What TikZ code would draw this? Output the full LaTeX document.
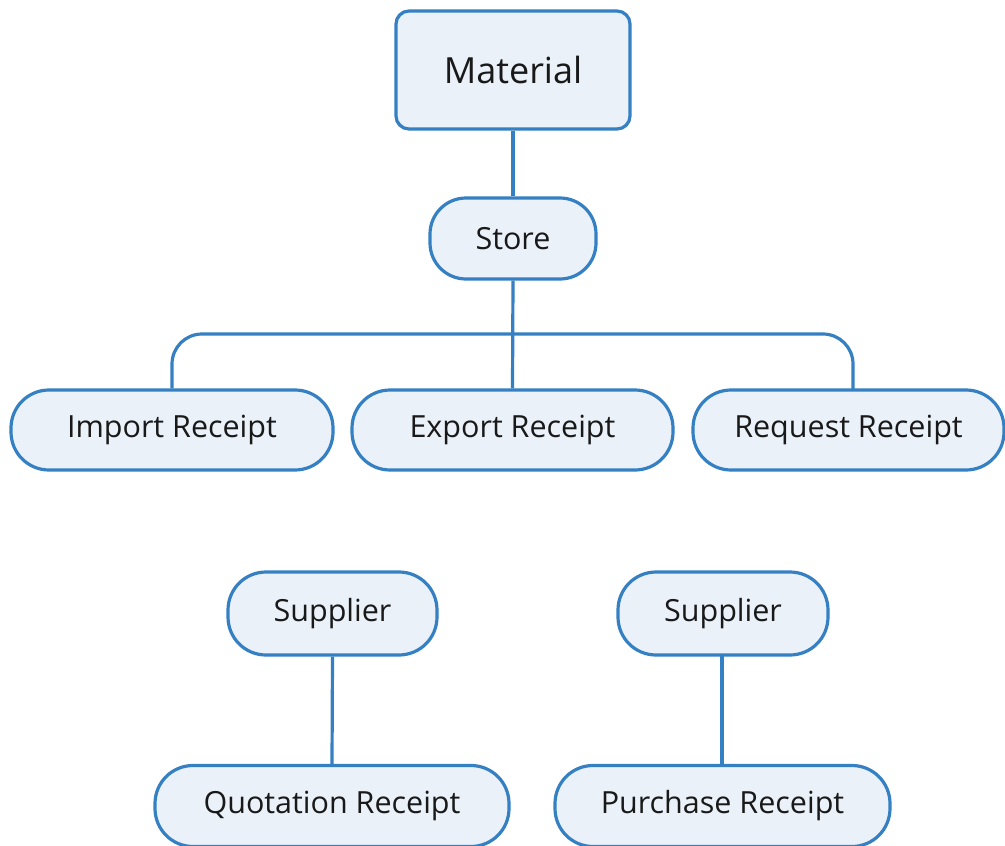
\documentclass[tikz,border=0pt]{standalone}
\usepackage{fontspec}
\setmainfont{Open Sans}
\definecolor{edge}{RGB}{52,128,194}
\definecolor{boxfill}{RGB}{234,241,249}
\definecolor{txt}{RGB}{25,25,25}
\tikzset{
  box/.style={draw=edge, fill=boxfill, line width=3.2pt, text=txt, inner sep=0pt,
    font=\fontsize{30.5}{36}\selectfont},
  pill/.style={box, rounded corners=38pt},
  link/.style={draw=edge, line width=3.2pt},
}
\begin{document}
\begin{tikzpicture}[x=1pt,y=-1pt]
\useasboundingbox (0,0) rectangle (1005,846);
\fill[white] (0,0) rectangle (1005,846);
\node[box, rounded corners=13pt, minimum width=234pt, minimum height=118pt,
  font=\fontsize{36}{42}\selectfont] (mat) at (513,70) {Material};
\node[pill, rounded corners=36pt, minimum width=166pt, minimum height=81pt] (store) at (513,238.5) {Store};
\node[pill, minimum width=322pt, minimum height=80pt] (imp) at (172,430) {Import Receipt};
\node[pill, minimum width=321pt, minimum height=80pt] (exp) at (512.5,430) {Export Receipt};
\node[pill, minimum width=311pt, minimum height=80pt] (req) at (848.5,430) {Request Receipt};
\node[pill, minimum width=209pt, minimum height=83pt] (supa) at (332.5,613.5) {Supplier};
\node[pill, minimum width=210pt, minimum height=83pt] (supb) at (723,613.5) {Supplier};
\node[pill, minimum width=354pt, minimum height=81pt] (quo) at (332,806) {Quotation Receipt};
\node[pill, minimum width=335pt, minimum height=81pt] (pur) at (722.5,806) {Purchase Receipt};
\coordinate (hl) at (172,334);
\coordinate (hr) at (853,334);
\coordinate (rq) at (853,390);
\coordinate (pb) at (722,655);
\coordinate (pt) at (722,765);
\draw[link] (mat.south) -- (store.north);
\draw[link] (store.south) -- (exp.north);
\draw[link, rounded corners=30pt] (imp.north) -- (hl) -- (hr) -- (rq);
\draw[link] (supa.south) -- (quo.north);
\draw[link] (pb) -- (pt);
\end{tikzpicture}
\end{document}
